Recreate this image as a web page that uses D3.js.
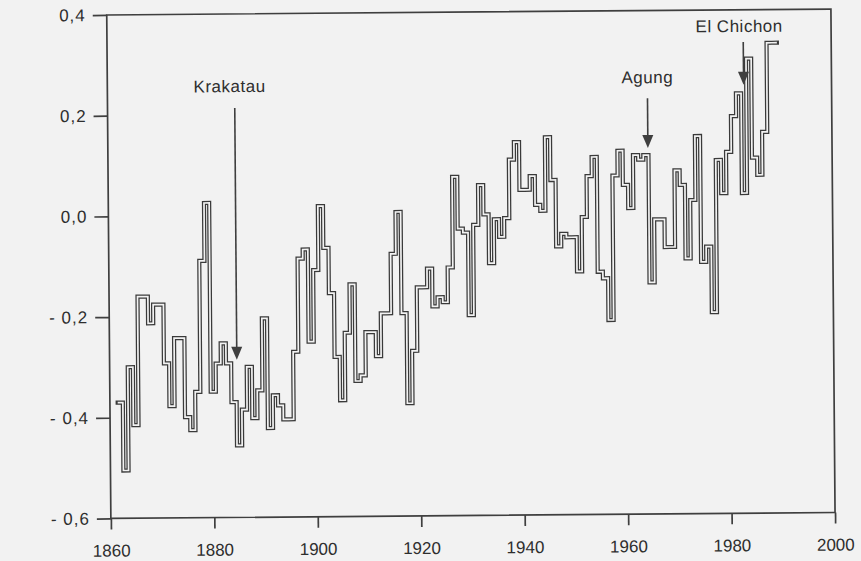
<!DOCTYPE html>
<html>
<head>
<meta charset="utf-8">
<title>Temperature anomalies and volcanic eruptions</title>
<script src="https://cdn.jsdelivr.net/npm/d3@7"></script>
<style>
  body { margin: 0; background: #f2f2f2; }
  svg { display: block; font-family: "Liberation Sans", Arial, sans-serif; }
</style>
</head>
<body>
<div id="chart"></div>
<script>

// annual anomaly, one value per year starting at firstYear
var firstYear = 1862;
var anomalies = [
  -0.37, -0.505, -0.30, -0.415, -0.16, -0.16, -0.213, -0.176,
  -0.176, -0.293, -0.378, -0.243, -0.243, -0.40, -0.426, -0.35, -0.09, 0.025,
  -0.35, -0.294, -0.254, -0.294, -0.371, -0.457, -0.386, -0.301, -0.403, -0.348,
  -0.205, -0.423, -0.358, -0.378, -0.406, -0.406, -0.272, -0.087, -0.069, -0.252,
  -0.11, 0.017, -0.066, -0.156, -0.283, -0.369, -0.235, -0.139, -0.331, -0.32,
  -0.234, -0.234, -0.282, -0.197, -0.197, -0.079, 0.004, -0.197, -0.376, -0.272,
  -0.146, -0.146, -0.109, -0.184, -0.166, -0.176, -0.107, 0.073, -0.03, -0.038,
  -0.202, -0.023, 0.056, -0.002, -0.099, -0.012, -0.047, -0.01, 0.106, 0.141,
  0.046, 0.046, 0.073, 0.016, 0.004, 0.15, 0.065, -0.067, -0.042, -0.049,
  -0.049, -0.117, -0.009, 0.072, 0.11, -0.118, -0.131, -0.214, 0.073, 0.122,
  0.054, 0.008, 0.113, 0.104, 0.113, -0.14, -0.015, -0.015, -0.07, -0.07,
  0.082, 0.053, -0.093, 0.023, 0.15, -0.1, -0.07, -0.2, 0.102, 0.036,
  0.118, 0.189, 0.234, 0.036, 0.303, 0.106, 0.072, 0.157, 0.334, 0.334
];

var xTicks = [1860, 1880, 1900, 1920, 1940, 1960, 1980, 2000];
var yTicks = [0.4, 0.2, 0.0, -0.2, -0.4, -0.6];

// volcanic eruptions marked with arrows
var eruptions = ["Krakatau", "Agung", "El Chichon"];
var eruptionYears = [1884.6, 1964.4, 1983.0];
var arrowFrom = [0.213, 0.226, 0.336];
var arrowTo = [-0.287, 0.127, 0.251];

var W = 861, H = 561;
var ink = "#3f3f3f";
var paper = "#f2f2f2";

var svg = d3.select("#chart")
  .append("svg")
    .attr("width", W)
    .attr("height", H);

svg.append("rect")
  .attr("width", W)
  .attr("height", H)
  .attr("fill", paper);

// the scanned page is a little tilted
var g = svg.append("g")
  .attr("transform", "rotate(-0.47, 470, 265)");

var x = d3.scaleLinear()
  .domain([1860, 2000])
  .range([108.8, 833]);

var y = d3.scaleLinear()
  .domain([-0.6, 0.4])
  .range([515.5, 12]);

// frame
g.append("rect")
  .attr("x", x(1860))
  .attr("y", y(0.4))
  .attr("width", x(2000) - x(1860))
  .attr("height", y(-0.6) - y(0.4))
  .attr("fill", "none")
  .attr("stroke", ink)
  .attr("stroke-width", 1.7);

var fmt = function(d) {
  var s = Math.abs(d).toFixed(1).replace(".", ",");
  return d < -0.001 ? "- " + s : s;
};

var yAxis = g.append("g")
  .attr("transform", "translate(" + x(1860) + ",0)")
  .call(d3.axisLeft(y).tickValues(yTicks).tickSize(14).tickPadding(7).tickFormat(fmt));

var xAxis = g.append("g")
  .attr("transform", "translate(0," + y(-0.6) + ")")
  .call(d3.axisBottom(x).tickValues(xTicks).tickSize(11).tickPadding(15).tickFormat(d3.format("d")));

[yAxis, xAxis].forEach(function(a) {
  a.select(".domain").remove();
  a.selectAll("line").attr("stroke", ink).attr("stroke-width", 1.7);
  a.selectAll("text")
    .attr("fill", "#2e2e2e")
    .style("font-size", "17px")
    .style("font-family", "'Liberation Sans', Arial, sans-serif");
});
yAxis.selectAll("text").style("letter-spacing", "1px");

// step series: each year is a flat segment one year wide
var steps = [];
anomalies.forEach(function(v, i) {
  var yr = firstYear + i;
  steps.push([yr - 0.5, v]);
  steps.push([yr + 0.5, v]);
});

var line = d3.line()
  .x(function(d) { return x(d[0]); })
  .y(function(d) { return y(d[1]); });

// hollow line look: dark wide stroke with a light core
g.append("path")
  .datum(steps)
  .attr("d", line)
  .attr("fill", "none")
  .attr("stroke", "#3a3a3a")
  .attr("stroke-width", 4.2)
  .attr("stroke-linecap", "square")
  .attr("stroke-linejoin", "miter");

g.append("path")
  .datum(steps)
  .attr("d", line)
  .attr("fill", "none")
  .attr("stroke", paper)
  .attr("stroke-width", 1.7)
  .attr("stroke-linecap", "butt")
  .attr("stroke-linejoin", "miter");

// arrows and labels
var labelShift = [[-5, -16], [0, -15], [-4, -10]];

eruptions.forEach(function(name, i) {
  var ax = x(eruptionYears[i]);
  var top = y(arrowFrom[i]);
  var tip = y(arrowTo[i]);

  g.append("line")
    .attr("x1", ax).attr("x2", ax)
    .attr("y1", top).attr("y2", tip - 10)
    .attr("stroke", ink)
    .attr("stroke-width", 1.6);

  g.append("path")
    .attr("d", "M" + (ax - 5.5) + "," + (tip - 13) +
               "L" + (ax + 5.5) + "," + (tip - 13) +
               "L" + ax + "," + tip + "Z")
    .attr("fill", ink);

  g.append("text")
    .attr("x", ax + labelShift[i][0])
    .attr("y", top + labelShift[i][1])
    .attr("text-anchor", "middle")
    .attr("fill", "#2e2e2e")
    .style("font-size", "17px")
    .style("letter-spacing", "0.5px")
    .text(name);
});

</script>
</body>
</html>
